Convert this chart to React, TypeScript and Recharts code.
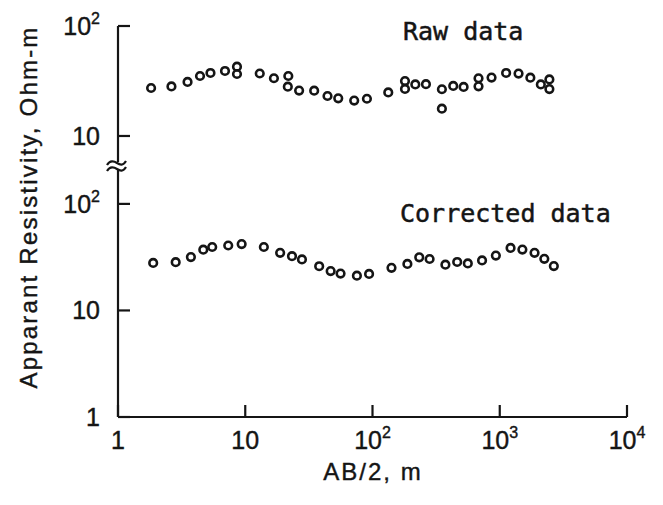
import React from 'react';
import { ScatterChart, Scatter, XAxis, YAxis } from 'recharts';

// AB/2 (m) and apparent resistivity (Ohm-m) — raw field data
const rawAB = [1.82, 2.63, 3.52, 4.41, 5.33, 6.93, 8.61, 8.61, 13.0, 16.8, 21.8, 21.6, 26.5, 34.8, 44.3, 53.8, 71.8, 90.4, 133, 180, 180, 217, 263, 351, 351, 431, 520, 681, 681, 862, 1122, 1405, 1740, 2103, 2455, 2455];
const rawRho = [27.3, 28.2, 31.0, 35.1, 37.4, 39.0, 42.7, 36.6, 37.0, 33.5, 35.1, 28.1, 25.9, 25.8, 23.1, 22.0, 21.0, 21.8, 24.9, 31.6, 26.8, 29.4, 29.6, 26.6, 17.7, 28.5, 27.9, 33.5, 28.3, 34.0, 37.4, 36.9, 33.9, 29.4, 32.7, 26.7];

// corrected data
const corAB = [1.89, 2.84, 3.74, 4.68, 5.5, 7.35, 9.37, 14.0, 18.8, 23.3, 27.9, 38.1, 46.9, 56.1, 75.4, 94.0, 141, 188, 233, 281, 374, 463, 561, 726, 932, 1216, 1506, 1877, 2240, 2661];
const corRho = [27.9, 28.4, 31.7, 37.2, 39.4, 40.7, 42.0, 39.4, 34.7, 32.3, 30.1, 26.0, 23.4, 22.2, 21.2, 22.0, 25.1, 27.3, 31.5, 30.4, 26.9, 28.5, 27.6, 29.5, 32.7, 38.6, 37.3, 34.7, 30.5, 26.1];

const xTicks = [1, 10, 100, 1000, 10000];
const rawYTicks = [10, 100];
const corYTicks = [1, 10, 100];

const rawData = rawAB.map((x, i) => ({ x, y: rawRho[i] }));
const corData = corAB.map((x, i) => ({ x, y: corRho[i] }));

const INK = '#151515';
const SANS = '"Liberation Sans", Arial, Helvetica, sans-serif';
const MONO = '"DejaVu Sans Mono", "Liberation Mono", monospace';

function powParts(v: number): [string, string | null] {
  const e = Math.round(Math.log10(v));
  if (e === 0) return ['1', null];
  if (e === 1) return ['10', null];
  return ['10', String(e)];
}

const YTick = (props: any) => {
  const { x, y, payload } = props;
  const [base, exp] = powParts(payload.value);
  return (
    <text x={x} y={y + 9} textAnchor="end" fontFamily={SANS} fontSize={25} fill={INK} stroke={INK} strokeWidth={0.4}>
      {base}
      {exp && (
        <tspan dy={-11} fontSize={16}>
          {exp}
        </tspan>
      )}
    </text>
  );
};

const XTick = (props: any) => {
  const { x, y, payload } = props;
  const [base, exp] = powParts(payload.value);
  return (
    <text x={x} y={y + 32} textAnchor="middle" fontFamily={SANS} fontSize={25} fill={INK} stroke={INK} strokeWidth={0.4}>
      {base}
      {exp && (
        <tspan dy={-11} fontSize={16}>
          {exp}
        </tspan>
      )}
    </text>
  );
};

const Ring = (props: any) => (
  <circle cx={props.cx} cy={props.cy} r={3.8} fill="none" stroke={INK} strokeWidth={2.6} />
);

const axisLine = { stroke: INK, strokeWidth: 2.2 };

export default function App() {
  return (
    <div style={{ position: 'fixed', left: 0, top: 0, width: 663, height: 505, background: '#fff' }}>
      <div style={{ position: 'absolute', left: 0, top: 0 }}>
        <ScatterChart width={663} height={505} margin={{ top: 170, right: 36, bottom: 0, left: 0 }}>
          <XAxis
            type="number"
            dataKey="x"
            scale="log"
            domain={[1, 10000]}
            allowDataOverflow
            ticks={xTicks}
            interval={0}
            height={88}
            tickSize={-12}
            tickMargin={12}
            tick={<XTick />}
            axisLine={axisLine}
            tickLine={axisLine}
          />
          <YAxis
            type="number"
            dataKey="y"
            scale="log"
            domain={[1, 208]}
            allowDataOverflow
            ticks={corYTicks}
            interval={0}
            width={118}
            tickSize={-12}
            tickMargin={30}
            tick={<YTick />}
            axisLine={axisLine}
            tickLine={axisLine}
          />
          <Scatter data={corData} shape={Ring} isAnimationActive={false} />
        </ScatterChart>
      </div>
      <div style={{ position: 'absolute', left: 0, top: 0 }}>
        <ScatterChart width={663} height={170} margin={{ top: 26, right: 36, bottom: 8, left: 0 }}>
          <XAxis type="number" dataKey="x" scale="log" domain={[1, 10000]} allowDataOverflow hide />
          <YAxis
            type="number"
            dataKey="y"
            scale="log"
            domain={[5.8, 100]}
            allowDataOverflow
            ticks={rawYTicks}
            interval={0}
            width={118}
            tickSize={-12}
            tickMargin={30}
            tick={<YTick />}
            axisLine={axisLine}
            tickLine={axisLine}
          />
          <Scatter data={rawData} shape={Ring} isAnimationActive={false} />
        </ScatterChart>
      </div>
      <svg
        width={663}
        height={505}
        style={{ position: 'absolute', left: 0, top: 0, pointerEvents: 'none' }}
      >
        <text
          transform="translate(37,207) rotate(-90)"
          textAnchor="middle"
          fontFamily={SANS}
          fontSize={24}
          letterSpacing={2.2}
          fill={INK}
          stroke={INK}
          strokeWidth={0.4}
        >
          Apparant Resistivity, Ohm-m
        </text>
        <text x={373} y={480} textAnchor="middle" fontFamily={SANS} fontSize={24} letterSpacing={2} fill={INK} stroke={INK} strokeWidth={0.4}>
          AB/2, m
        </text>
        <text x={403} y={40} fontFamily={MONO} fontSize={25} fill={INK} stroke={INK} strokeWidth={0.5}>
          Raw data
        </text>
        <text x={400} y={222} fontFamily={MONO} fontSize={25} fill={INK} stroke={INK} strokeWidth={0.5}>
          Corrected data
        </text>
        <path d="M107,165 C110,160 114,161 117,163 S123,166 126,161" fill="none" stroke={INK} strokeWidth={2.2} />
        <path d="M107,171 C110,166 114,167 117,169 S123,172 126,167" fill="none" stroke={INK} strokeWidth={2.2} />
      </svg>
    </div>
  );
}
